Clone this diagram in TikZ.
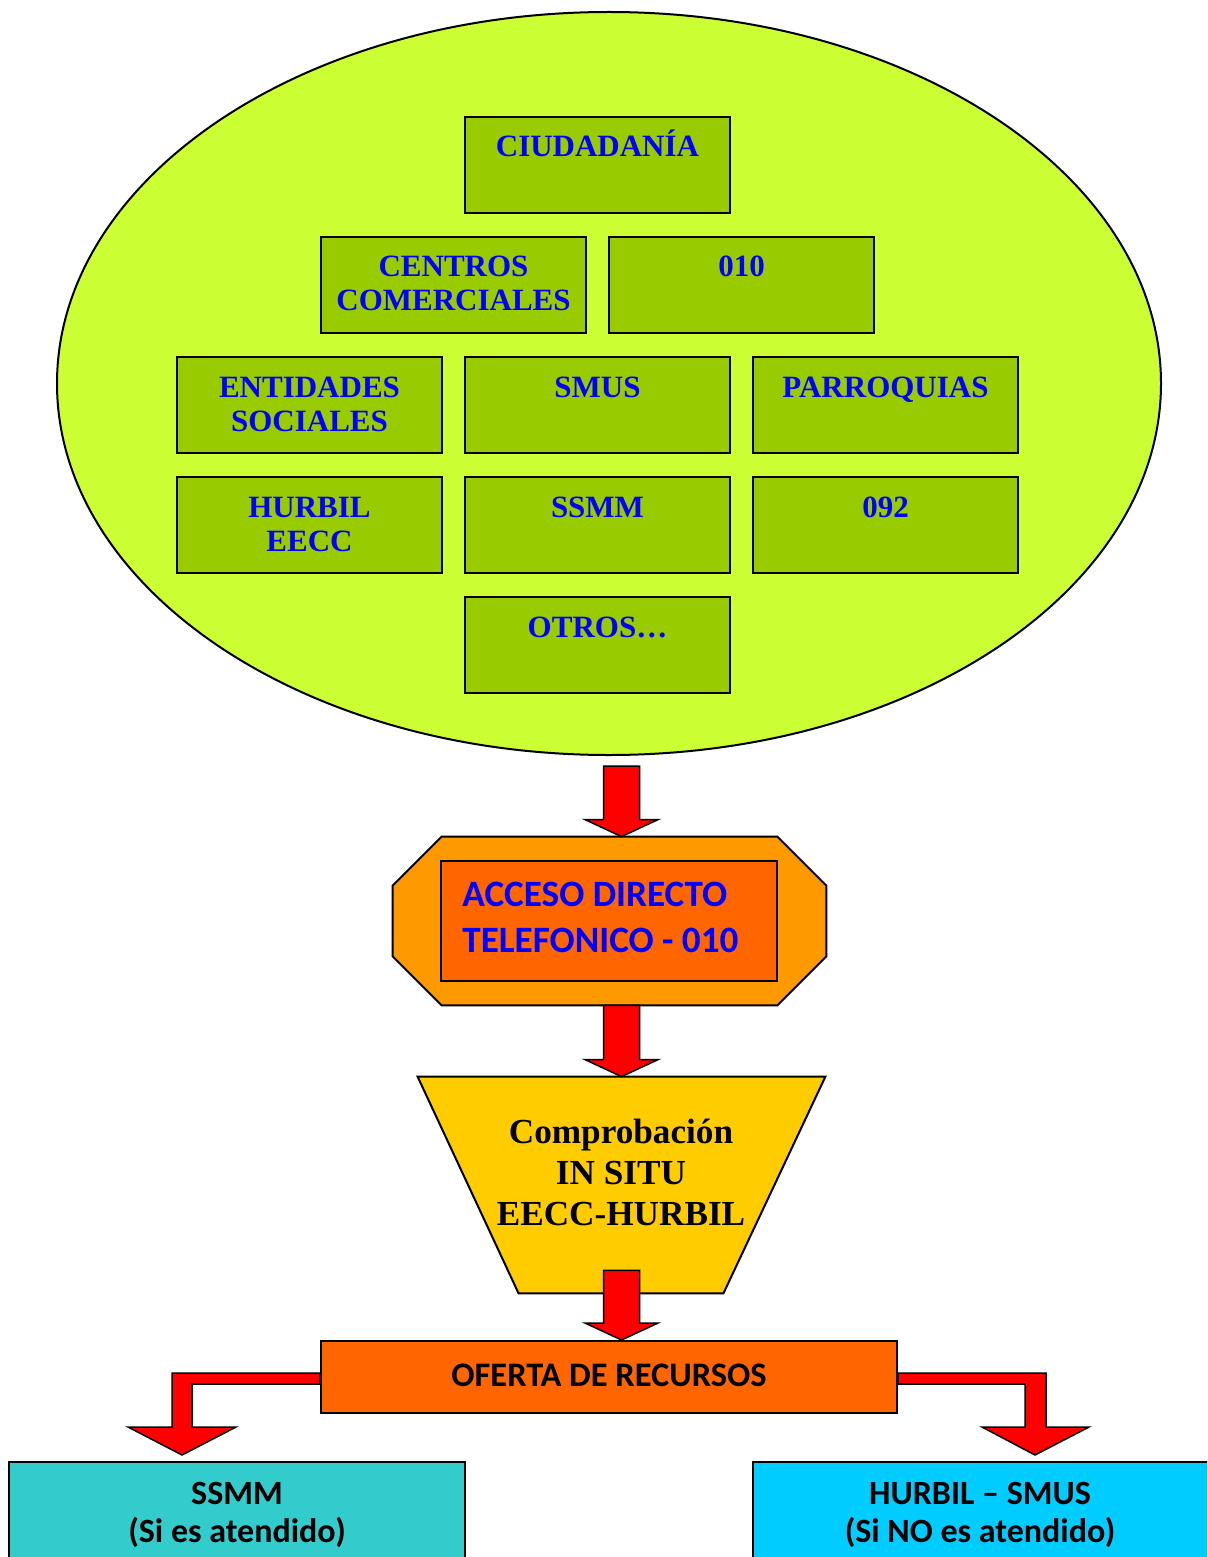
\documentclass[tikz,border=0pt]{standalone}
\usepackage{fontspec}
\setmainfont{Liberation Serif}
\newfontfamily\carlito{Carlito}
\usetikzlibrary{shapes.geometric,fit,calc}
\definecolor{ellfill}{HTML}{CCFF33}
\definecolor{boxgreen}{HTML}{99CC00}
\definecolor{octorange}{HTML}{FF9900}
\definecolor{deeporange}{HTML}{FF6600}
\definecolor{trapyellow}{HTML}{FFCC00}
\definecolor{arrowred}{HTML}{FF0000}
\definecolor{tealbox}{HTML}{33CCCC}
\definecolor{skybox}{HTML}{00CCFF}
\definecolor{textblue}{HTML}{0000FF}
\newcommand\mystack[1]{\begin{tabular}[t]{@{}c@{}}#1\end{tabular}}
\newcommand\mystackl[1]{\begin{tabular}[t]{@{}l@{}}#1\end{tabular}}
\newcommand\blockarrow[2]{\filldraw[redarrow] let \p1=(#1), \p2=(#2) in
  (\x1-9pt,\y1) -- (\x1+9pt,\y1) -- (\x1+9pt,\y2+8.5pt) -- (\x1+18.25pt,\y2+8.5pt)
  -- (\x1,\y2) -- (\x1-18.25pt,\y2+8.5pt) -- (\x1-9pt,\y2+8.5pt) -- cycle;}
\begin{document}
\begin{tikzpicture}[x=0.5pt,y=-0.5pt,
  gbox/.style={rectangle, draw=black, line width=1pt, fill=boxgreen, inner sep=0pt},
  gtext/.style={font=\bfseries\fontsize{15.5}{17}\selectfont, text=textblue, inner sep=0pt, anchor=base},
  plainbox/.style={rectangle, draw=black, line width=1pt, inner sep=0pt},
  redarrow/.style={fill=arrowred, draw=black, line width=0.75pt, line join=miter},
  bottext/.style={font=\carlito\bfseries\fontsize{17}{19}\selectfont, text=black, inner sep=0pt, anchor=base}]
\useasboundingbox (0,0) rectangle (1207,1557);
\clip (0,0) rectangle (1207,1557);
\fill[white] (0,0) rectangle (1207,1557);

% ellipse
\node[ellipse, draw=black, line width=1pt, fill=ellfill, inner sep=0pt,
      minimum width=552pt, minimum height=371.5pt] (ell) at (609,383.5) {};

% green boxes
\node[gbox, fit={(465,117) (730,213)}] (ciud) {};
\node[gtext] (tciud) at ($(ciud.north)+(0,41)$) {CIUDADANÍA};
\node[gbox, fit={(321,237) (586,333)}] (ccom) {};
\node[gtext] (tccom) at ($(ccom.north)+(0,41)$) {\mystack{CENTROS\\COMERCIALES}};
\node[gbox, fit={(609,237) (874,333)}] (b010) {};
\node[gtext] (tb010) at ($(b010.north)+(0,41)$) {010};
\node[gbox, fit={(177,357) (442,453)}] (ents) {};
\node[gtext] (tents) at ($(ents.north)+(0,41)$) {\mystack{ENTIDADES\\SOCIALES}};
\node[gbox, fit={(465,357) (730,453)}] (smus) {};
\node[gtext] (tsmus) at ($(smus.north)+(0,41)$) {SMUS};
\node[gbox, fit={(753,357) (1018,453)}] (parr) {};
\node[gtext] (tparr) at ($(parr.north)+(0,41)$) {PARROQUIAS};
\node[gbox, fit={(177,477) (442,573)}] (hurb) {};
\node[gtext] (thurb) at ($(hurb.north)+(0,41)$) {\mystack{HURBIL\\EECC}};
\node[gbox, fit={(465,477) (730,573)}] (ssmmg) {};
\node[gtext] (tssmmg) at ($(ssmmg.north)+(0,41)$) {SSMM};
\node[gbox, fit={(753,477) (1018,573)}] (b092) {};
\node[gtext] (tb092) at ($(b092.north)+(0,41)$) {092};
\node[gbox, fit={(465,597) (730,693)}] (otros) {};
\node[gtext] (totros) at ($(otros.north)+(0,41)$) {OTROS…};

% octagon
\node[inner sep=0pt, fit={(393,837) (826,1005)}] (oct) {};
\filldraw[fill=octorange, draw=black, line width=1pt]
  ($(oct.north west)+(0,49)$) -- ($(oct.north west)+(49,0)$) -- ($(oct.north east)+(-49,0)$)
  -- ($(oct.north east)+(0,49)$) -- ($(oct.south east)+(0,-49)$) -- ($(oct.south east)+(-49,0)$)
  -- ($(oct.south west)+(49,0)$) -- ($(oct.south west)+(0,-49)$) -- cycle;
\node[plainbox, fill=deeporange, fit={(441,861) (777,981)}] (acc) {};
\node[font=\carlito\bfseries\fontsize{18.6}{23}\selectfont, text=textblue, inner sep=0pt, anchor=base west]
  (tacc) at ($(acc.north west)+(22,46)$) {\mystackl{ACCESO DIRECTO\\TELEFONICO - 010}};

% trapezoid
\node[inner sep=0pt, fit={(418,1077) (825,1293)}] (trap) {};
\filldraw[fill=trapyellow, draw=black, line width=1pt]
  (trap.north west) -- (trap.north east) -- ($(trap.south east)+(-102,0)$)
  -- ($(trap.south west)+(101,0)$) -- cycle;
\node[font=\bfseries\fontsize{17.6}{20.5}\selectfont, text=black, inner sep=0pt, anchor=base]
  (ttrap) at (621,1143) {\mystack{Comprobación\\IN SITU\\EECC-HURBIL}};

% oferta
\node[plainbox, fill=deeporange, minimum width=288pt, minimum height=36pt] (ofe) at (609,1377) {};
\node[font=\carlito\bfseries\fontsize{17.2}{20}\selectfont, text=black, inner sep=0pt, anchor=base]
  (tofe) at ($(ofe.center)+(0,9)$) {OFERTA DE RECURSOS};

% bottom boxes
\node[plainbox, fill=tealbox, fit={(9,1462) (465,1620)}] (ssmm) {};
\node[bottext] (tssmm) at ($(ssmm.north)+(0,43)$) {\mystack{SSMM\\(Si es atendido)}};
\node[plainbox, fill=skybox, fit={(753,1462) (1211,1620)}] (hs) {};
\node[bottext] (ths) at ($(hs.north)+(-2,43)$) {\mystack{HURBIL – SMUS\\(Si NO es atendido)}};

% vertical block arrows
\coordinate (a1) at ($(ell.south)+(12.5,10)$);
\blockarrow{a1}{a1 |- oct.north}
\coordinate (a2) at (a1 |- oct.south);
\blockarrow{a2}{a1 |- trap.north}
\coordinate (a3) at ($(a1 |- trap.south)+(0,-23)$);
\blockarrow{a3}{a1 |- ofe.north}

% bent block arrows
\coordinate (ltip) at ($(ssmm.north west)+(174,-6)$);
\filldraw[redarrow] ([yshift=2pt]ofe.west) -| ($(ltip)+(-10,-28)$) -- ($(ltip)+(-54,-28)$)
  -- (ltip) -- ($(ltip)+(54,-28)$) -- ($(ltip)+(10,-28)$) |- ([yshift=-3.5pt]ofe.west) -- cycle;
\coordinate (rtip) at ($(hs.north west)+(283,-6)$);
\filldraw[redarrow] ([yshift=2pt]ofe.east) -| ($(rtip)+(11,-28)$) -- ($(rtip)+(54,-28)$)
  -- (rtip) -- ($(rtip)+(-53,-28)$) -- ($(rtip)+(-10,-28)$) |- ([yshift=-3.5pt]ofe.east) -- cycle;
\end{tikzpicture}
\end{document}
